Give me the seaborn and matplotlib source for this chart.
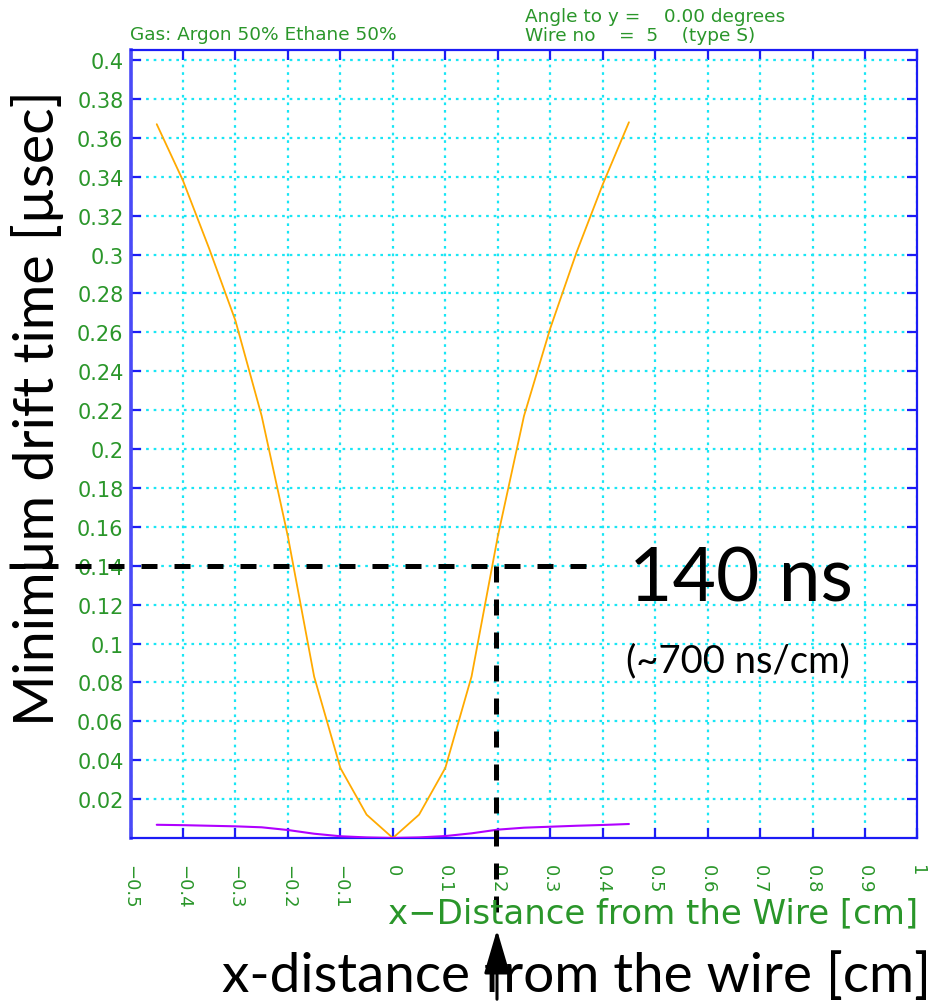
import numpy as np
import pandas as pd
import matplotlib
matplotlib.use("Agg")
import matplotlib.pyplot as plt
from matplotlib.patches import Rectangle, FancyArrowPatch
from matplotlib.lines import Line2D
import seaborn as sns

# ---------------- data ----------------
x_dist = [-0.45, -0.40, -0.35, -0.30, -0.25, -0.20, -0.15, -0.10, -0.05, 0.0,
          0.05, 0.10, 0.15, 0.20, 0.25, 0.30, 0.35, 0.40, 0.45]
t_max = [0.367, 0.338, 0.303, 0.266, 0.217, 0.155, 0.083, 0.036, 0.012, 0.0,
         0.012, 0.036, 0.083, 0.155, 0.217, 0.262, 0.301, 0.336, 0.368]
t_min = [0.0068, 0.0066, 0.0063, 0.0060, 0.0055, 0.0041, 0.0022, 0.0009, 0.0003, 0.0,
         0.0003, 0.0010, 0.0024, 0.0043, 0.0053, 0.0058, 0.0063, 0.0067, 0.0072]

x_ticks = [-0.5, -0.4, -0.3, -0.2, -0.1, 0.0, 0.1, 0.2, 0.3, 0.4, 0.5, 0.6, 0.7, 0.8, 0.9, 1.0]
x_ticklabels = ["\u22120.5", "\u22120.4", "\u22120.3", "\u22120.2", "\u22120.1", "0", "0.1", "0.2",
                "0.3", "0.4", "0.5", "0.6", "0.7", "0.8", "0.9", "1"]
y_ticks = [0.02, 0.04, 0.06, 0.08, 0.10, 0.12, 0.14, 0.16, 0.18, 0.20,
           0.22, 0.24, 0.26, 0.28, 0.30, 0.32, 0.34, 0.36, 0.38, 0.40]
y_ticklabels = ["0.02", "0.04", "0.06", "0.08", "0.1", "0.12", "0.14", "0.16", "0.18", "0.2",
                "0.22", "0.24", "0.26", "0.28", "0.3", "0.32", "0.34", "0.36", "0.38", "0.4"]

marked_time = 0.14      # 140 ns
marked_dist = 0.197     # cm

df = pd.DataFrame({"x": x_dist, "tmax": t_max, "tmin": t_min})

# ---------------- style ----------------
sns.set_theme(style="white")
plt.rcParams["font.family"] = ["DejaVu Sans"]

GREEN = "#2a962a"
BLUE = "#1c1cf5"
CYAN = "#19e6f5"

fig = plt.figure(figsize=(9.33, 10.03), dpi=100)
ax = fig.add_axes([130.5 / 933, 1 - 839 / 1003, (917.5 - 130.5) / 933, (839 - 50.5) / 1003])

sns.lineplot(data=df, x="x", y="tmax", ax=ax, color="#ffaa00", lw=1.3,
             sort=False, estimator=None, zorder=3)
sns.lineplot(data=df, x="x", y="tmin", ax=ax, color="#b000ff", lw=1.5,
             sort=False, estimator=None, zorder=3)

ax.set_xlim(-0.5, 1.0)
ax.set_ylim(0.0, 0.4054)
ax.set_xticks(x_ticks)
ax.set_xticklabels(x_ticklabels, rotation=-90, color=GREEN, fontsize=13)
ax.set_yticks(y_ticks)
ax.set_yticklabels(y_ticklabels, color=GREEN, fontsize=15)
ax.set_xlabel("")
ax.set_ylabel("")

ax.grid(True, color=CYAN, linestyle=(0, (1.2, 2.2)), lw=1.6, zorder=0)
ax.tick_params(axis="both", which="major", direction="in", length=7.5, width=1.6,
               color=BLUE, top=True, right=True, bottom=True, left=True)
ax.tick_params(axis="x", pad=19)
ax.tick_params(axis="y", pad=5)
for side in ["top", "right", "bottom"]:
    ax.spines[side].set_color(BLUE)
    ax.spines[side].set_linewidth(1.6)
ax.spines["left"].set_color("#4a4af8")
ax.spines["left"].set_linewidth(2.6)

# green axis title from the original program
fig.text(918 / 933, 1 - 923 / 1003, "x\u2212Distance from the Wire [cm]", color=GREEN,
         fontsize=24.5, ha="right", va="baseline")

# header texts
fig.text(130 / 933, 1 - 40 / 1003, "Gas: Argon 50% Ethane 50%", color=GREEN, fontsize=13.3,
         ha="left", va="baseline")
fig.text(525 / 933, 1 - 22 / 1003, "Angle to y =    0.00 degrees", color=GREEN, fontsize=13.3,
         ha="left", va="baseline")
fig.text(525 / 933, 1 - 41 / 1003, "Wire no    =  5    (type S)", color=GREEN, fontsize=13.3,
         ha="left", va="baseline")

# white block covering the left edge of the tick labels
fig.patches.append(Rectangle((0, 1 - 782 / 1003), 77 / 933, (782 - 82) / 1003,
                             transform=fig.transFigure, facecolor="white",
                             edgecolor="none", zorder=1))

# annotations: dashed guide lines (drawn on top of everything)
dash = (0, (3.2, 3.4))
hline = Line2D([-0.731, 0.396], [marked_time, marked_time], transform=ax.transData,
               color="black", lw=3.6, linestyle=dash, dash_capstyle="butt", zorder=3)
vline = Line2D([marked_dist, marked_dist], [marked_time, -0.042], transform=ax.transData,
               color="black", lw=3.6, linestyle=dash, dash_capstyle="butt", zorder=3)
fig.add_artist(hline)
fig.add_artist(vline)

# arrow at bottom
fig.patches.append(FancyArrowPatch(
    (497 / 933, 0.0), (497 / 933, 1 - 928 / 1003), transform=fig.transFigure,
    arrowstyle="-|>,head_length=1.7,head_width=0.5", mutation_scale=16,
    color="black", lw=2.2, zorder=3))

BIG = ["Lato", "DejaVu Sans"]
fig.text(38 / 933, 1 - 408 / 1003, "Minimum drift time [\u00b5sec]", rotation=90,
         fontsize=40, family=BIG, color="black", ha="center", va="center", zorder=2)
fig.text(576 / 933, 1 - 992 / 1003, "x-distance from the wire [cm]", fontsize=39.5,
         family=BIG, color="black", ha="center", va="baseline", zorder=2)
fig.text(741 / 933, 1 - 602 / 1003, "140 ns", fontsize=54, family=BIG, color="black",
         ha="center", va="baseline", zorder=2)
fig.text(738 / 933, 1 - 672 / 1003, "(~700 ns/cm)", fontsize=27.5, family=BIG, color="black",
         ha="center", va="baseline", zorder=2)

fig.savefig("out.png", dpi=100)
